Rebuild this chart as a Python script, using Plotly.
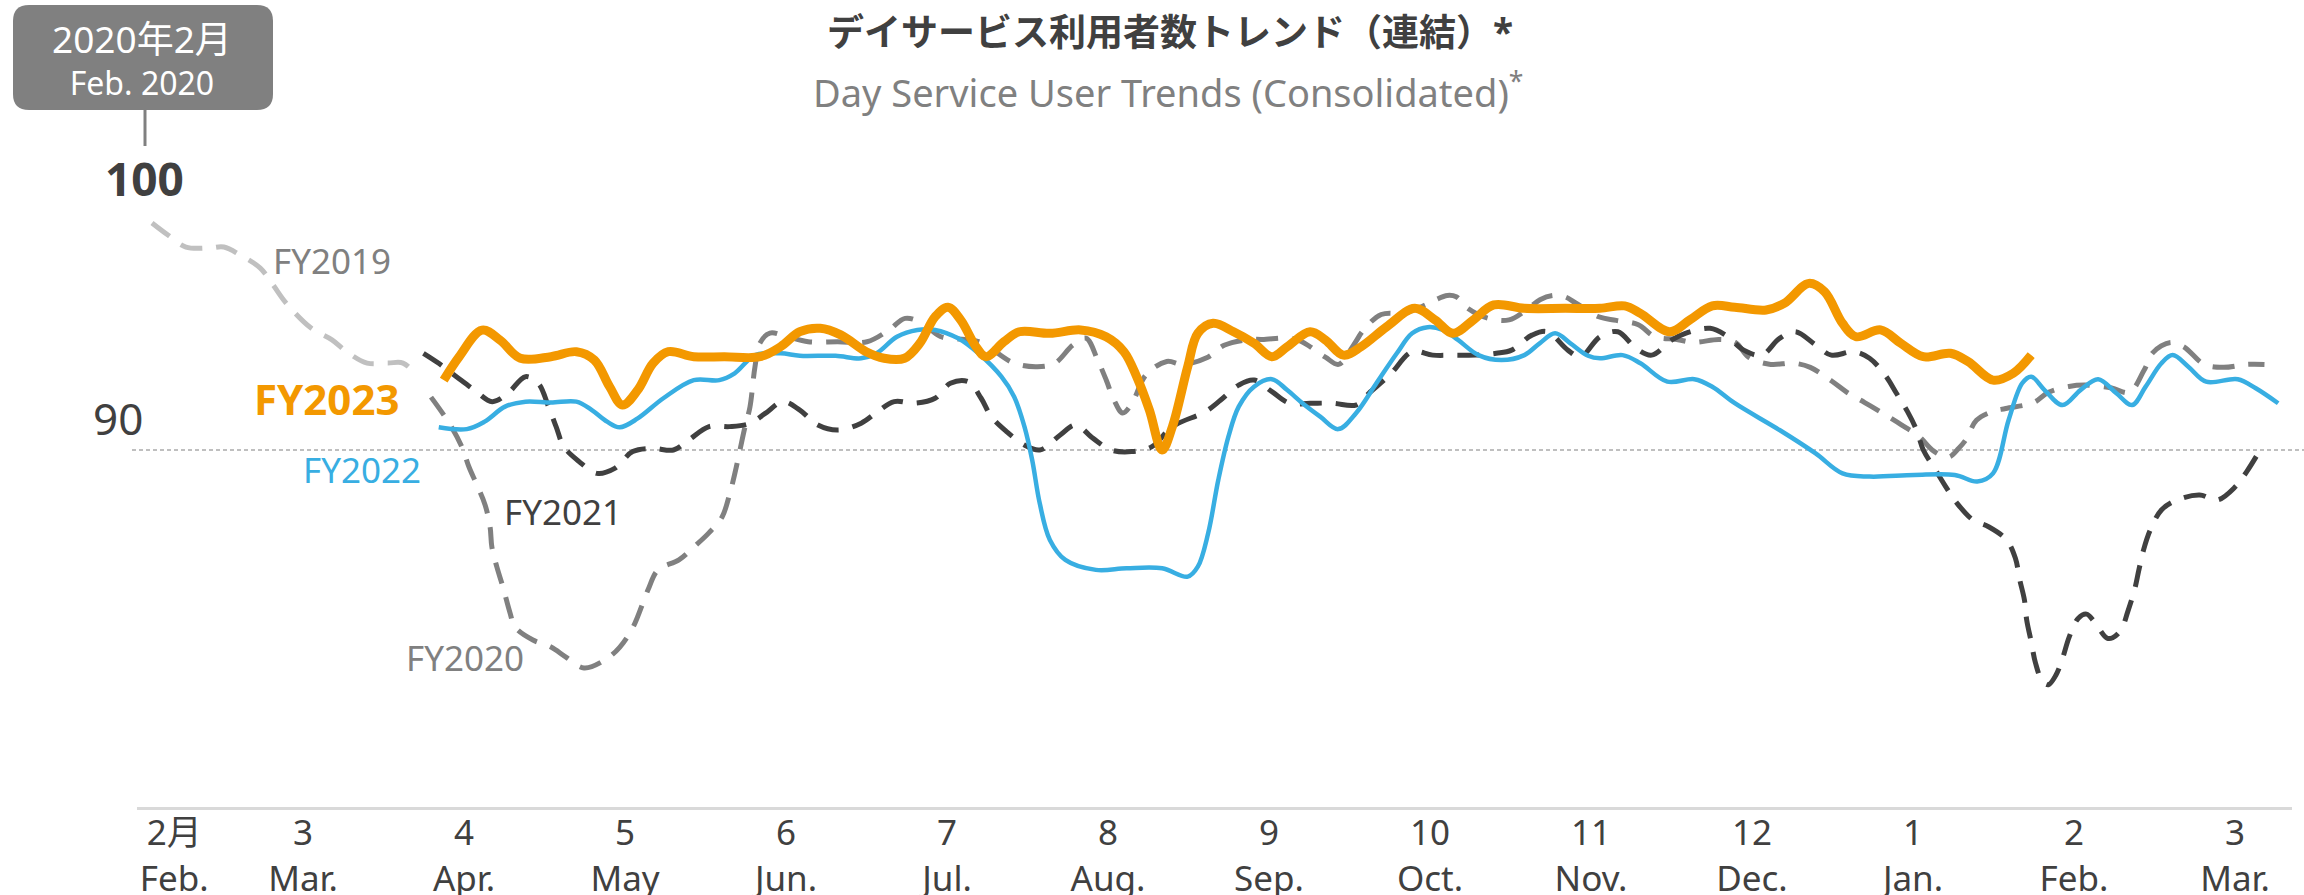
import plotly.graph_objects as go

# ---------------- data ----------------
# x: fiscal-month position (Apr = 0 ... Mar = 11), y: index (Feb. 2020 = 100)
tick_pos = [-1.8, -1, 0, 1, 2, 3, 4, 5, 6, 7, 8, 9, 10, 11]
tick_top = ["2月", "3", "4", "5", "6", "7", "8", "9", "10", "11", "12", "1", "2", "3"]
tick_bottom = ["Feb.", "Mar.", "Apr.", "May", "Jun.", "Jul.", "Aug.", "Sep.", "Oct.",
               "Nov.", "Dec.", "Jan.", "Feb.", "Mar."]

fy2019_x = [-1.938, -1.839, -1.727, -1.584, -1.491, -1.391, -1.267, -1.186, -1.106, -0.950,
            -0.820, -0.727, -0.602, -0.472, -0.379, -0.286]
fy2019_y = [100.0, 99.47, 98.94, 98.90, 98.94, 98.59, 98.02, 97.27, 96.48, 95.37,
            94.85, 94.32, 93.83, 93.83, 93.83, 93.22]

fy2020_x = [-0.205, -0.093, -0.013, 0.031, 0.080, 0.131, 0.162, 0.173, 0.204, 0.242,
            0.286, 0.317, 0.428, 0.540, 0.633, 0.745, 0.875, 0.968, 1.050, 1.143,
            1.205, 1.335, 1.428, 1.521, 1.603, 1.652, 1.683, 1.714, 1.745, 1.776,
            1.807, 1.838, 1.900, 2.001, 2.138, 2.320, 2.503, 2.640, 2.740, 2.850,
            2.959, 3.196, 3.415, 3.561, 3.671, 3.780, 3.863, 3.936, 3.990, 4.036,
            4.091, 4.146, 4.237, 4.365, 4.465, 4.620, 4.721, 4.876, 4.958, 5.131,
            5.204, 5.350, 5.432, 5.524, 5.588, 5.697, 5.843, 5.971, 6.035, 6.108,
            6.163, 6.236, 6.363, 6.491, 6.610, 6.683, 6.765, 6.838, 6.902, 7.048,
            7.157, 7.294, 7.395, 7.532, 7.641, 7.796, 7.897, 7.979, 8.116, 8.253,
            8.362, 8.490, 8.590, 8.700, 8.809, 8.928, 9.037, 9.129, 9.220, 9.284,
            9.330, 9.394, 9.494, 9.576, 9.750, 9.841, 9.969, 10.070, 10.234, 10.344,
            10.435, 10.490, 10.599, 10.681, 10.809, 10.928, 11.074, 11.183]
fy2020_y = [92.33, 91.19, 90.13, 89.25, 88.46, 87.58, 86.61, 85.73, 84.85, 83.96,
            82.82, 82.20, 81.63, 81.32, 80.88, 80.40, 80.75, 81.32, 82.20, 83.84,
            84.72, 85.16, 85.73, 86.35, 87.05, 88.11, 88.99, 90.00, 91.01, 91.89,
            93.65, 94.71, 95.15, 95.00, 94.77, 94.77, 94.77, 95.29, 95.80, 95.58,
            95.00, 94.77, 93.83, 93.67, 93.83, 94.61, 94.93, 93.96, 93.06, 92.22,
            91.63, 92.02, 93.32, 93.90, 93.77, 94.09, 94.61, 94.87, 94.87, 94.93,
            94.77, 94.09, 93.77, 94.61, 95.29, 95.97, 96.04, 96.39, 96.62, 96.81,
            96.75, 96.23, 95.80, 95.73, 96.23, 96.62, 96.81, 96.75, 96.49, 95.87,
            95.71, 95.52, 95.00, 94.87, 94.74, 94.87, 94.74, 94.09, 93.77, 93.83,
            93.64, 93.06, 92.54, 92.09, 91.63, 91.11, 90.60, 89.95, 89.69, 90.08,
            90.47, 91.31, 91.70, 91.83, 92.09, 92.54, 92.80, 92.86, 92.73, 92.54,
            93.51, 94.29, 94.74, 94.55, 93.77, 93.64, 93.77, 93.77]

fy2021_x = [-0.252, -0.157, -0.047, 0.065, 0.175, 0.271, 0.382, 0.461, 0.525, 0.572,
            0.620, 0.715, 0.826, 0.936, 1.048, 1.175, 1.301, 1.396, 1.522, 1.649,
            1.776, 1.871, 1.981, 2.086, 2.198, 2.324, 2.467, 2.562, 2.672, 2.799,
            2.926, 3.021, 3.132, 3.212, 3.275, 3.370, 3.481, 3.576, 3.703, 3.798,
            3.908, 4.020, 4.146, 4.273, 4.400, 4.605, 4.700, 4.812, 4.907, 5.018,
            5.128, 5.255, 5.398, 5.540, 5.620, 5.752, 5.889, 6.017, 6.159, 6.285,
            6.412, 6.507, 6.633, 6.728, 6.856, 6.935, 7.056, 7.167, 7.279, 7.377,
            7.502, 7.586, 7.740, 7.837, 7.949, 8.060, 8.171, 8.269, 8.395, 8.493,
            8.632, 8.730, 8.827, 8.897, 8.966, 9.022, 9.064, 9.134, 9.203, 9.274,
            9.372, 9.469, 9.581, 9.636, 9.663, 9.692, 9.706, 9.734, 9.761, 9.804,
            9.841, 9.888, 9.929, 9.971, 10.027, 10.078, 10.125, 10.206, 10.240, 10.292,
            10.334, 10.376, 10.403, 10.432, 10.474, 10.543, 10.641, 10.780, 10.891, 11.003,
            11.073, 11.156]
fy2021_y = [94.26, 93.82, 93.23, 92.64, 92.13, 92.49, 93.23, 92.94, 91.91, 91.03,
            90.15, 89.49, 88.97, 89.19, 89.93, 90.07, 90.00, 90.44, 91.03, 91.03,
            91.17, 91.61, 92.13, 91.76, 91.10, 90.88, 91.18, 91.65, 92.13, 92.06,
            92.28, 92.94, 93.01, 92.28, 91.47, 90.81, 90.22, 90.00, 90.66, 91.10,
            90.51, 90.00, 89.93, 90.15, 91.03, 91.69, 92.20, 92.86, 93.08, 92.57,
            92.06, 92.06, 92.06, 91.98, 92.50, 93.32, 94.33, 94.18, 94.18, 94.18,
            94.26, 94.40, 95.06, 95.21, 94.40, 94.11, 94.99, 95.21, 94.48, 94.18,
            94.85, 95.14, 95.36, 95.06, 94.40, 94.18, 94.92, 95.21, 94.63, 94.18,
            94.33, 94.04, 93.30, 92.50, 91.69, 90.88, 90.00, 89.19, 88.39, 87.65,
            86.92, 86.62, 86.04, 85.23, 84.28, 83.40, 82.52, 81.56, 80.61, 79.80,
            79.66, 80.09, 80.83, 81.78, 82.59, 82.77, 82.44, 81.71, 81.73, 82.07,
            82.88, 83.84, 84.72, 85.60, 86.48, 87.36, 87.80, 88.02, 87.80, 88.39,
            89.05, 90.00]

fy2022_x = [-0.157, 0.017, 0.128, 0.255, 0.382, 0.540, 0.698, 0.794, 0.889, 0.967,
            1.079, 1.238, 1.427, 1.586, 1.681, 1.808, 1.966, 2.086, 2.308, 2.467,
            2.562, 2.689, 2.816, 2.926, 3.069, 3.195, 3.338, 3.417, 3.481, 3.529,
            3.576, 3.639, 3.735, 3.925, 4.115, 4.336, 4.495, 4.558, 4.622, 4.685,
            4.748, 4.812, 4.907, 5.018, 5.113, 5.208, 5.318, 5.430, 5.540, 5.667,
            5.794, 5.889, 5.985, 6.080, 6.174, 6.301, 6.444, 6.586, 6.681, 6.777,
            6.872, 6.982, 7.056, 7.196, 7.307, 7.474, 7.642, 7.753, 7.893, 8.171,
            8.395, 8.562, 8.730, 9.008, 9.259, 9.399, 9.497, 9.594, 9.678, 9.734,
            9.817, 9.929, 10.040, 10.150, 10.263, 10.361, 10.445, 10.543, 10.613, 10.710,
            10.821, 11.017, 11.129, 11.268]
fy2022_y = [91.00, 90.92, 91.25, 91.91, 92.13, 92.09, 92.13, 91.76, 91.25, 91.00,
            91.39, 92.28, 93.08, 93.08, 93.38, 94.18, 94.26, 94.15, 94.15, 94.04,
            94.26, 94.99, 95.29, 95.29, 94.92, 94.26, 93.23, 92.35, 91.03, 89.56,
            87.65, 86.04, 85.16, 84.72, 84.79, 84.79, 84.42, 84.86, 86.33, 88.68,
            90.59, 91.91, 92.79, 93.12, 92.64, 92.06, 91.47, 90.92, 91.62, 92.94,
            94.26, 95.14, 95.41, 95.29, 94.85, 94.18, 93.96, 94.18, 94.70, 95.14,
            94.70, 94.15, 94.04, 94.18, 93.82, 93.01, 93.12, 92.79, 92.06, 90.88,
            89.85, 88.97, 88.83, 88.90, 88.90, 88.61, 88.97, 91.32, 92.94, 93.23,
            92.64, 91.98, 92.64, 93.12, 92.50, 91.98, 92.79, 93.82, 94.18, 93.67,
            93.01, 93.12, 92.72, 92.06]

fy2023_x = [-0.126, -0.030, 0.112, 0.224, 0.350, 0.540, 0.698, 0.810, 0.904, 0.984,
            1.079, 1.174, 1.269, 1.427, 1.617, 1.839, 1.966, 2.086, 2.213, 2.340,
            2.498, 2.609, 2.736, 2.831, 2.926, 3.006, 3.085, 3.180, 3.243, 3.354,
            3.449, 3.639, 3.830, 3.988, 4.099, 4.178, 4.257, 4.336, 4.400, 4.495,
            4.558, 4.653, 4.780, 4.907, 5.018, 5.113, 5.255, 5.350, 5.462, 5.572,
            5.731, 5.905, 6.032, 6.142, 6.269, 6.396, 6.586, 6.840, 7.056, 7.209,
            7.307, 7.489, 7.614, 7.753, 7.893, 8.088, 8.200, 8.353, 8.451, 8.562,
            8.646, 8.799, 8.924, 9.064, 9.232, 9.343, 9.497, 9.623, 9.734]
fy2023_y = [93.08, 94.11, 95.28, 94.84, 94.04, 94.11, 94.33, 93.96, 92.79, 91.98,
            92.64, 93.82, 94.33, 94.11, 94.11, 94.11, 94.55, 95.21, 95.36, 95.07,
            94.33, 94.04, 94.04, 94.70, 95.87, 96.29, 95.73, 94.55, 94.11, 94.77,
            95.21, 95.14, 95.29, 94.99, 94.33, 93.23, 91.76, 90.00, 91.03, 93.67,
            95.14, 95.58, 95.21, 94.70, 94.11, 94.55, 95.21, 94.85, 94.18, 94.55,
            95.43, 96.24, 95.73, 95.14, 95.73, 96.39, 96.24, 96.24, 96.24, 96.35,
            96.02, 95.21, 95.73, 96.35, 96.29, 96.17, 96.46, 97.34, 96.97, 95.58,
            94.99, 95.29, 94.70, 94.11, 94.26, 93.89, 93.08, 93.38, 94.18]

base_value = 90
start_value = 100

# ---------------- layout helpers ----------------
W, H = 2304, 895
ML, MR, MT, MB = 137, 12, 0, 88
PW, PH = W - ML - MR, H - MT - MB
FONT = "Noto Sans, Noto Sans CJK JP, sans-serif"
DARK = "#404040"
GRAY = "#808080"


def px(xp):
    return (xp - ML) / PW


def py(yp):
    return (PH - (yp - MT)) / PH


fig = go.Figure()

dash_pat = "22px,14px"
series = [
    ("FY2019", fy2019_x, fy2019_y, dict(color="#c0c0c0", width=5, dash=dash_pat)),
    ("FY2020", fy2020_x, fy2020_y, dict(color=GRAY, width=5, dash=dash_pat)),
    ("FY2021", fy2021_x, fy2021_y, dict(color=DARK, width=5, dash=dash_pat)),
    ("FY2022", fy2022_x, fy2022_y, dict(color="#38aee2", width=4.5)),
    ("FY2023", fy2023_x, fy2023_y, dict(color="#f39800", width=9)),
]
for name, xs, ys, line in series:
    fig.add_trace(go.Scatter(x=xs, y=ys, mode="lines", name=name,
                             line=dict(shape="spline", smoothing=1.0, **line),
                             hoverinfo="skip"))

# reference line at 90
fig.add_shape(type="line", xref="paper", yref="y", x0=px(132), x1=px(2304),
              y0=base_value, y1=base_value,
              line=dict(color="#bfbfbf", width=2, dash="4px,3px"), layer="below")

# rounded box top-left
bx0, bx1, by0, by1, r = 13, 273, 5, 110, 16
X0, X1 = px(bx0), px(bx1)
Y0, Y1 = py(by0), py(by1)
rx, ry = r / PW, r / PH
path = (f"M {X0+rx},{Y0} L {X1-rx},{Y0} Q {X1},{Y0} {X1},{Y0-ry} "
        f"L {X1},{Y1+ry} Q {X1},{Y1} {X1-rx},{Y1} L {X0+rx},{Y1} "
        f"Q {X0},{Y1} {X0},{Y1+ry} L {X0},{Y0-ry} Q {X0},{Y0} {X0+rx},{Y0} Z")
fig.add_shape(type="path", xref="paper", yref="paper", path=path,
              fillcolor=GRAY, line=dict(width=0))
fig.add_shape(type="line", xref="paper", yref="paper", x0=px(145), x1=px(145),
              y0=py(110), y1=py(146), line=dict(color=GRAY, width=3))

ann = []
ann.append(dict(text="<span style='font-size:37px'>2020年2月</span><br>Feb. 2020",
                x=px(142), y=py(58), font=dict(size=32, color="white")))
ann.append(dict(text=f"<b>{start_value}</b>", x=px(144), y=py(178), font=dict(size=46, color=DARK)))
ann.append(dict(text=f"{base_value}", x=px(118), y=py(418), font=dict(size=44, color=DARK)))
ann.append(dict(text="<b>デイサービス利用者数トレンド（連結）*</b>", x=px(1170), y=py(32),
                font=dict(size=37, color=DARK)))
ann.append(dict(text="Day Service User Trends (Consolidated)<sup>*</sup>", x=px(1168), y=py(90),
                font=dict(size=38, color=GRAY)))
for a in ann:
    a.update(xref="paper", yref="paper", showarrow=False, xanchor="center", yanchor="middle")

# series labels (data coordinates)
labels = [
    ("FY2019", -1.200, 98.37, "left", dict(size=35, color=GRAY)),
    ("<b>FY2023</b>", -0.391, 92.29, "right", dict(size=42, color="#f39800")),
    ("FY2022", -0.255, 89.16, "right", dict(size=35, color="#38aee2")),
    ("FY2021", 0.235, 87.31, "left", dict(size=35, color=DARK)),
    ("FY2020", 0.385, 80.88, "right", dict(size=35, color=GRAY)),
]
for t, x, y, xa, f in labels:
    ann.append(dict(text=t, x=x, y=y, xref="x", yref="y", showarrow=False,
                    xanchor=xa, yanchor="middle", font=f))

x_lo = -2.0311
x_hi = 11.3540
y_lo = 74.273
y_hi = 109.824

fig.update_layout(
    width=W, height=H,
    margin=dict(l=ML, r=MR, t=MT, b=MB, pad=0, autoexpand=False),
    paper_bgcolor="white", plot_bgcolor="white",
    showlegend=False,
    font=dict(family=FONT, color=DARK),
    annotations=ann,
    hovermode=False,
    xaxis=dict(range=[x_lo, x_hi], showgrid=False, zeroline=False, automargin=False,
               showline=True, linecolor="#d9d9d9", linewidth=3,
               tickmode="array", tickvals=tick_pos,
               ticktext=[f"{a}<br>{b}" for a, b in zip(tick_top, tick_bottom)],
               ticks="", ticklabelstandoff=-7,
               tickfont=dict(size=35, color=DARK, family=FONT),
               fixedrange=True),
    yaxis=dict(range=[y_lo, y_hi], showgrid=False, zeroline=False, automargin=False,
               showticklabels=False, showline=False, fixedrange=True),
)

fig.write_html(
    "out.html",
    config={"displayModeBar": False, "staticPlot": True},
    post_script="document.body.style.margin='0';document.body.style.overflow='hidden';",
)
